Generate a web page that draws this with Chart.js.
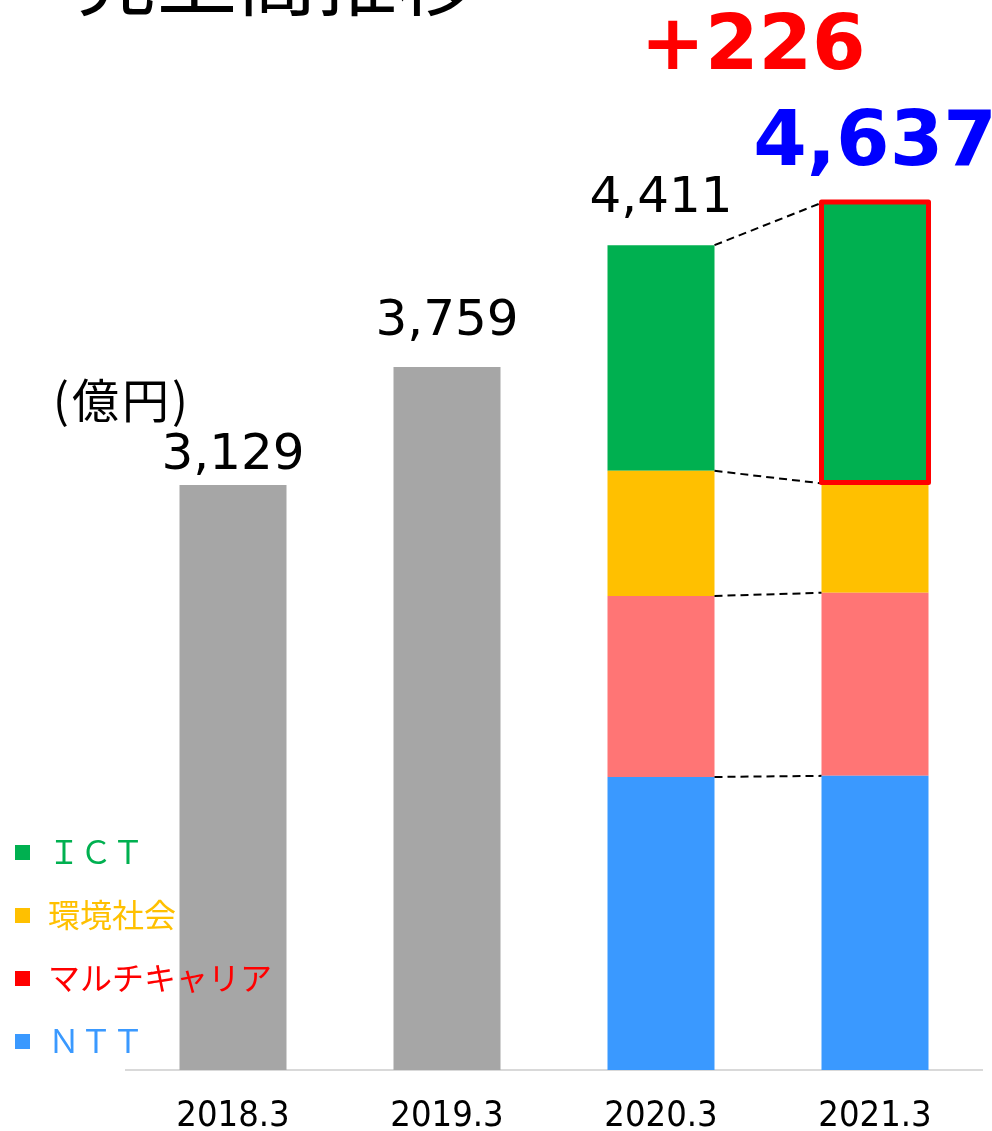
<!DOCTYPE html>
<html lang="ja">
<head>
<meta charset="utf-8">
<title>売上高推移</title>
<script src="https://cdn.jsdelivr.net/npm/chart.js@4.4.1/dist/chart.umd.min.js"></script>
<style>
  html, body { margin: 0; padding: 0; background: #fff; }
  #wrap { width: 992px; height: 1131px; position: relative; }
</style>
</head>
<body>
<div id="wrap"><canvas id="salesChart"></canvas></div>
<script>
// 売上高推移 - stacked bar chart

const years = ["2018.3", "2019.3", "2020.3", "2021.3"];
const totals = [3129, 3759, 4411, 4637];
const oldTotal = [3129, 3759, null, null];
const ntt = [null, null, 1567, 1573];
const multiCarrier = [null, null, 968, 979];
const environment = [null, null, 669, 585];
const ict = [null, null, 1207, 1500];

const FONT_JP = '"Noto Sans CJK JP", "Noto Sans", sans-serif';
const FONT_NUM = '"DejaVu Sans", Verdana, sans-serif';

// gap between bar top and its total label (labels were hand placed)
const labelLift = [16, 32, 33, 38];

document.addEventListener("DOMContentLoaded", () => {
  const ctx = document.getElementById("salesChart");

  // drawing extras: title, unit, totals, connectors, highlight, legend
  const extrasPlugin = {
    id: "extras",
    afterDatasetsDraw(chart) {
      const c = chart.ctx;
      const x = chart.scales.x;
      const y = chart.scales.y;
      c.save();

      // title (cut off at top of the picture)
      c.fillStyle = "#000";
      c.font = "80px " + FONT_JP;
      c.textAlign = "left";
      c.textBaseline = "alphabetic";
      c.fillText("売上高推移", 77, 9);

      // unit
      c.font = "47px " + FONT_JP;
      c.letterSpacing = "3px";
      c.fillText("(億円)", 53, 418);
      c.letterSpacing = "0px";

      // total labels
      c.textAlign = "center";
      totals.forEach((v, i) => {
        const px = x.getPixelForValue(i);
        const py = y.getPixelForValue(v) - labelLift[i];
        if (i === totals.length - 1) {
          c.fillStyle = "#0000ff";
          c.font = "bold 77px " + FONT_NUM;
          c.fillText(v.toLocaleString("en-US"), px, py);
          const diff = v - totals[i - 1];
          c.fillStyle = "#ff0000";
          c.fillText("+" + diff, px - 122, py - 96);
        } else {
          c.fillStyle = "#000";
          c.font = "50px " + FONT_NUM;
          c.fillText(v.toLocaleString("en-US"), px, py);
        }
      });

      // dashed connectors between 2020.3 and 2021.3 segments
      const barA = chart.getDatasetMeta(1).data[2];
      const barB = chart.getDatasetMeta(1).data[3];
      const xa = barA.x + barA.width / 2;
      const xb = barB.x - barB.width / 2;
      const stacks = [ntt, multiCarrier, environment, ict];
      let sumA = 0;
      let sumB = 0;
      c.strokeStyle = "#000";
      c.lineWidth = 2;
      c.setLineDash([8, 5]);
      stacks.forEach((s) => {
        sumA += s[2];
        sumB += s[3];
        c.beginPath();
        c.moveTo(xa, y.getPixelForValue(sumA));
        c.lineTo(xb, y.getPixelForValue(sumB));
        c.stroke();
      });
      c.setLineDash([]);

      // red highlight round the 2021.3 ICT segment
      const hi = chart.getDatasetMeta(4).data[3];
      c.strokeStyle = "#ff0000";
      c.lineWidth = 5;
      c.lineJoin = "round";
      c.strokeRect(hi.x - hi.width / 2, hi.y - 1, hi.width, hi.base - hi.y);

      // legend (top item = top of stack)
      const items = chart.data.datasets.slice(1).reverse();
      c.textAlign = "left";
      c.textBaseline = "middle";
      c.font = "32px " + FONT_JP;
      items.forEach((ds, k) => {
        const cy = 852 + k * 63;
        c.fillStyle = ds.legendColor;
        c.fillRect(15, cy - 7, 15, 15);
        c.fillText(ds.label, 48, cy);
      });

      c.restore();
    },
  };

  new Chart(ctx, {
    type: "bar",
    data: {
      labels: years,
      datasets: [
        {
          label: "合計",
          data: oldTotal,
          backgroundColor: "#a6a6a6",
        },
        {
          label: "ＮＴＴ",
          data: ntt,
          backgroundColor: "#3a99ff",
          legendColor: "#3a99ff",
        },
        {
          label: "マルチキャリア",
          data: multiCarrier,
          backgroundColor: "#ff7575",
          legendColor: "#ff0000",
        },
        {
          label: "環境社会",
          data: environment,
          backgroundColor: "#ffc000",
          legendColor: "#ffc000",
        },
        {
          label: "ＩＣＴ",
          data: ict,
          backgroundColor: "#00b050",
          legendColor: "#00b050",
        },
      ],
    },
    options: {
      responsive: true,
      maintainAspectRatio: false,
      animation: false,
      categoryPercentage: 0.5,
      barPercentage: 1,
      layout: {
        padding: { top: 135, left: 126, right: 10, bottom: 0 },
      },
      plugins: {
        legend: { display: false },
        tooltip: { enabled: false },
      },
      scales: {
        x: {
          stacked: true,
          grid: { display: false, drawTicks: false },
          border: { display: true, color: "#d9d9d9", width: 2 },
          ticks: {
            color: "#000",
            padding: 29,
            font: { family: '"DejaVu Sans Condensed", "DejaVu Sans", sans-serif', size: 36, lineHeight: 1 },
          },
          afterFit: (scale) => {
            scale.height = 61;
          },
        },
        y: {
          stacked: true,
          display: false,
          min: 0,
          max: 5000,
        },
      },
    },
    plugins: [extrasPlugin],
  });
});
</script>
</body>
</html>
